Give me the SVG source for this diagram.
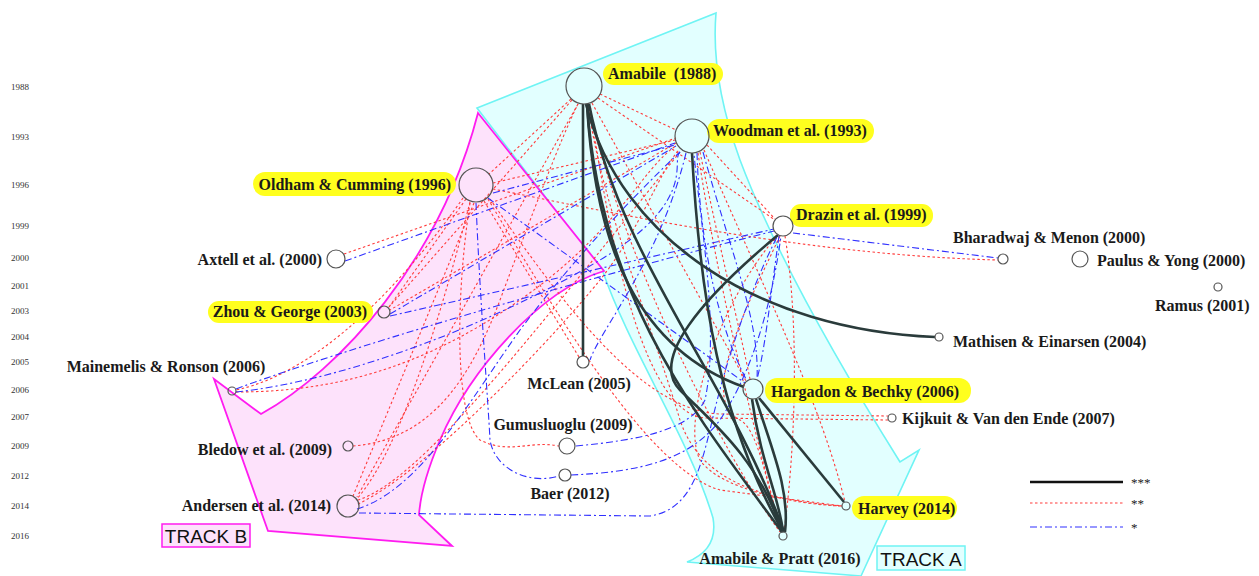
<svg xmlns="http://www.w3.org/2000/svg" width="1259" height="576" viewBox="0 0 1259 576">
<style>
.yr{font-family:"Liberation Serif",serif;font-size:9px;fill:#333}
.lb{font-family:"Liberation Serif",serif;font-weight:bold;font-size:16px;fill:#1a1a1a}
.hl{fill:#ffff1e}
.nd{fill:none;stroke:#555;stroke-width:1.2}
.s{fill:none;stroke:#2a3b3b;stroke-width:2.6}
.r{fill:none;stroke:#ff3b3b;stroke-width:1.1;stroke-dasharray:2.5 2.5}
.b{fill:none;stroke:#3030ff;stroke-width:1.1;stroke-dasharray:7 3 2 3}
.trk{font-family:"Liberation Sans",sans-serif;font-size:19px;fill:#111}
</style>
<rect width="1259" height="576" fill="#fff"/>
<g id="trackA">
<path d="M477,108 L716,13 C712,60 722,110 740,160 C770,240 830,350 900,462 L919,450 L861,576 L687,562 C712,552 716,535 713,518 C690,440 630,350 603,272 Z" fill="#e2ffff" stroke="#6ff4f4" stroke-width="1.6"/>
</g>
<g id="trackB">
<path d="M478,113 L604,271 C540,290 470,370 440,440 C425,475 420,500 419,515 L452,546 L268,531 L214,379 L261,414 C340,370 440,260 478,113 Z" fill="#fde2fb" stroke="#ff1cf0" stroke-width="1.8"/>
</g>
<g id="years">
<text class="yr" x="11" y="90">1988</text>
<text class="yr" x="11" y="140">1993</text>
<text class="yr" x="11" y="188">1996</text>
<text class="yr" x="11" y="229">1999</text>
<text class="yr" x="11" y="261">2000</text>
<text class="yr" x="11" y="289">2001</text>
<text class="yr" x="11" y="314">2003</text>
<text class="yr" x="11" y="340">2004</text>
<text class="yr" x="11" y="365">2005</text>
<text class="yr" x="11" y="393">2006</text>
<text class="yr" x="11" y="420">2007</text>
<text class="yr" x="11" y="449">2009</text>
<text class="yr" x="11" y="479">2012</text>
<text class="yr" x="11" y="509">2014</text>
<text class="yr" x="11" y="539">2016</text>
</g>
<g id="connectors">
<!-- red ** -->
<path class="r" d="M571,99 L489,174"/>
<path class="r" d="M600,94 L676,130"/>
<path class="r" d="M598,98 L775,220"/>
<path class="r" d="M572,100 L389,307"/>
<path class="r" d="M353,446 C430,440 470,380 500,300 S560,140 578,104"/>
<path class="r" d="M578,104 L357,497"/>
<path class="r" d="M842,506 C760,500 700,480 680,420 C650,320 600,200 588,104"/>
<path class="r" d="M588,104 C620,250 720,450 780,532"/>
<path class="r" d="M888,420 L705,418 C660,415 620,320 590,104"/>
<path class="r" d="M592,103 L746,381"/>
<path class="r" d="M466,199 L389,307"/>
<path class="r" d="M463,198 C420,260 330,370 236,390"/>
<path class="r" d="M474,203 L353,496"/>
<path class="r" d="M470,202 C440,320 400,450 356,500"/>
<path class="r" d="M484,201 L579,357"/>
<path class="r" d="M493,183 L675,140"/>
<path class="r" d="M493,189 C600,210 800,255 998,260"/>
<path class="r" d="M470,203 C455,300 455,420 480,440 C510,455 530,440 559,446"/>
<path class="r" d="M490,199 C560,300 640,410 720,414 L888,416"/>
<path class="r" d="M488,199 C560,320 650,470 720,490 L842,506"/>
<path class="r" d="M707,145 L775,219"/>
<path class="r" d="M676,143 L390,310"/>
<path class="r" d="M236,392 C330,392 420,370 520,300 S640,170 677,145"/>
<path class="r" d="M344,254 L676,138"/>
<path class="r" d="M358,500 C420,480 520,350 680,152"/>
<path class="r" d="M700,152 C720,250 740,330 750,379"/>
<path class="r" d="M704,150 C760,280 820,400 845,502"/>
<path class="r" d="M698,153 C720,300 760,450 781,532"/>
<path class="r" d="M785,236 C800,330 795,450 784,532"/>
<path class="r" d="M778,235 C720,300 680,420 700,460 C720,490 800,505 842,506"/>
<path class="r" d="M780,236 C740,320 700,400 740,420 C760,430 770,500 781,532"/>
<path class="r" d="M358,504 C430,470 560,330 600,280 S660,170 679,150"/>
<!-- blue * -->
<path class="b" d="M488,198 L745,383"/>
<path class="b" d="M476,203 C480,300 488,400 490,440 C495,470 530,485 559,476"/>
<path class="b" d="M345,261 L675,143"/>
<path class="b" d="M390,314 L676,146"/>
<path class="b" d="M390,316 L774,229"/>
<path class="b" d="M236,389 C300,365 500,300 774,231"/>
<path class="b" d="M236,392 C350,380 500,320 600,260 S670,160 680,152"/>
<path class="b" d="M357,509 C420,490 470,400 520,330 C580,250 650,180 680,152"/>
<path class="b" d="M359,513 L650,516 C690,510 700,470 710,430 C730,340 760,270 778,235"/>
<path class="b" d="M576,446 C640,440 690,430 705,400 C720,330 700,220 694,154"/>
<path class="b" d="M571,475 C640,472 690,460 720,420 C760,360 775,280 781,236"/>
<path class="b" d="M793,233 L998,258"/>
<path class="b" d="M697,153 C700,250 720,330 747,381"/>
<path class="b" d="M703,152 C730,250 760,320 757,379"/>
<path class="b" d="M779,236 C770,300 765,350 757,379"/>
<path class="b" d="M493,193 L675,145"/>
<path class="b" d="M686,153 C660,260 600,330 590,360"/>
<!-- solid *** -->
<path class="s" d="M583,104 L583,356" stroke="#111"/>
<path class="s" d="M586,104 C620,240 760,330 935,337" stroke="#1c2424"/>
<path class="s" d="M587,104 C595,250 640,350 744,387"/>
<path class="s" d="M587,104 C600,300 700,420 782,532"/>
<path class="s" d="M589,104 C620,260 730,380 784,532"/>
<path class="s" d="M692,153 C700,300 720,420 783,532"/>
<path class="s" d="M778,235 C700,300 650,360 680,390 C710,420 760,460 782,532"/>
<path class="s" d="M759,398 L844,502"/>
<path class="s" d="M752,399 C760,460 780,500 783,532"/>
<path class="s" d="M756,399 C772,450 790,490 785,532"/>
</g>
<g id="highlights">
<rect class="hl" x="603" y="63" width="120" height="22" rx="11"/>
<rect class="hl" x="707" y="119" width="167" height="24" rx="12"/>
<rect class="hl" x="253" y="172" width="203" height="24" rx="12"/>
<rect class="hl" x="790" y="204" width="143" height="23" rx="11"/>
<rect class="hl" x="208" y="301" width="165" height="22" rx="11"/>
<rect class="hl" x="765" y="378" width="206" height="25" rx="12"/>
<rect class="hl" x="852" y="496" width="105" height="24" rx="12"/>
</g>
<g id="n-amabile1988"><circle class="nd" cx="584" cy="86" r="18"/><text class="lb" x="608" y="79" xml:space="preserve">Amabile  (1988)</text></g>
<g id="n-woodman1993"><circle class="nd" cx="692" cy="136" r="17"/><text class="lb" x="713" y="136">Woodman et al. (1993)</text></g>
<g id="n-oldham1996"><circle class="nd" cx="476" cy="185" r="17"/><text class="lb" x="451" y="190" text-anchor="end">Oldham &amp; Cumming (1996)</text></g>
<g id="n-drazin1999"><circle class="nd" cx="783" cy="226" r="10"/><text class="lb" x="796" y="220">Drazin et al. (1999)</text></g>
<g id="n-axtell2000"><circle class="nd" cx="336" cy="259" r="9"/><text class="lb" x="322" y="265" text-anchor="end">Axtell et al. (2000)</text></g>
<g id="n-bharadwaj2000"><circle class="nd" cx="1003" cy="259" r="5"/><text class="lb" x="953" y="243">Bharadwaj &amp; Menon (2000)</text></g>
<g id="n-paulus2000"><circle class="nd" cx="1080" cy="259" r="8"/><text class="lb" x="1097" y="266">Paulus &amp; Yong (2000)</text></g>
<g id="n-ramus2001"><circle class="nd" cx="1218" cy="287" r="4"/><text class="lb" x="1155" y="311">Ramus (2001)</text></g>
<g id="n-zhou2003"><circle class="nd" cx="384" cy="312" r="6"/><text class="lb" x="367" y="317" text-anchor="end">Zhou &amp; George (2003)</text></g>
<g id="n-mathisen2004"><circle class="nd" cx="939" cy="337" r="4"/><text class="lb" x="953" y="347">Mathisen &amp; Einarsen (2004)</text></g>
<g id="n-mclean2005"><circle class="nd" cx="583" cy="362" r="6"/><text class="lb" x="579" y="389" text-anchor="middle">McLean (2005)</text></g>
<g id="n-mainemelis2006"><circle class="nd" cx="232" cy="391" r="4"/><text class="lb" x="166" y="372" text-anchor="middle">Mainemelis &amp; Ronson (2006)</text></g>
<g id="n-hargadon2006"><circle class="nd" cx="753" cy="389" r="10"/><text class="lb" x="771" y="397">Hargadon &amp; Bechky (2006)</text></g>
<g id="n-kijkuit2007"><circle class="nd" cx="892" cy="418" r="4"/><text class="lb" x="902" y="424">Kijkuit &amp; Van den Ende (2007)</text></g>
<g id="n-gumusluoglu2009"><circle class="nd" cx="567" cy="446" r="8"/><text class="lb" x="563" y="430" text-anchor="middle">Gumusluoglu (2009)</text></g>
<g id="n-bledow2009"><circle class="nd" cx="348" cy="446" r="5"/><text class="lb" x="332" y="455" text-anchor="end">Bledow et al. (2009)</text></g>
<g id="n-baer2012"><circle class="nd" cx="565" cy="475" r="6"/><text class="lb" x="570" y="499" text-anchor="middle">Baer (2012)</text></g>
<g id="n-andersen2014"><circle class="nd" cx="348" cy="506" r="11"/><text class="lb" x="331" y="511" text-anchor="end">Andersen et al. (2014)</text></g>
<g id="n-harvey2014"><circle class="nd" cx="846" cy="506" r="4"/><text class="lb" x="858" y="514">Harvey (2014)</text></g>
<g id="n-amabilepratt2016"><circle class="nd" cx="783" cy="536" r="4"/><text class="lb" x="780" y="564" text-anchor="middle" fill="#333">Amabile &amp; Pratt (2016)</text></g>
<g id="trackB-label"><rect x="162" y="524" width="88" height="23" fill="#fde2fb" stroke="#ff1cf0" stroke-width="1.5"/><text class="trk" x="206" y="543" text-anchor="middle">TRACK B</text></g>
<g id="trackA-label"><rect x="877" y="546" width="88" height="24" fill="#e2ffff" stroke="#6ff4f4" stroke-width="1.5"/><text class="trk" x="921" y="566" text-anchor="middle">TRACK A</text></g>
<g id="legend">
<line x1="1030" y1="482" x2="1123" y2="482" stroke="#111" stroke-width="2.6"/>
<text x="1131" y="487" font-family="Liberation Serif,serif" font-size="13" fill="#222">***</text>
<line class="r" x1="1030" y1="503" x2="1123" y2="503"/>
<text x="1131" y="508" font-family="Liberation Serif,serif" font-size="13" fill="#222">**</text>
<line class="b" x1="1030" y1="527" x2="1123" y2="527"/>
<text x="1131" y="532" font-family="Liberation Serif,serif" font-size="13" fill="#222">*</text>
</g>
</svg>
